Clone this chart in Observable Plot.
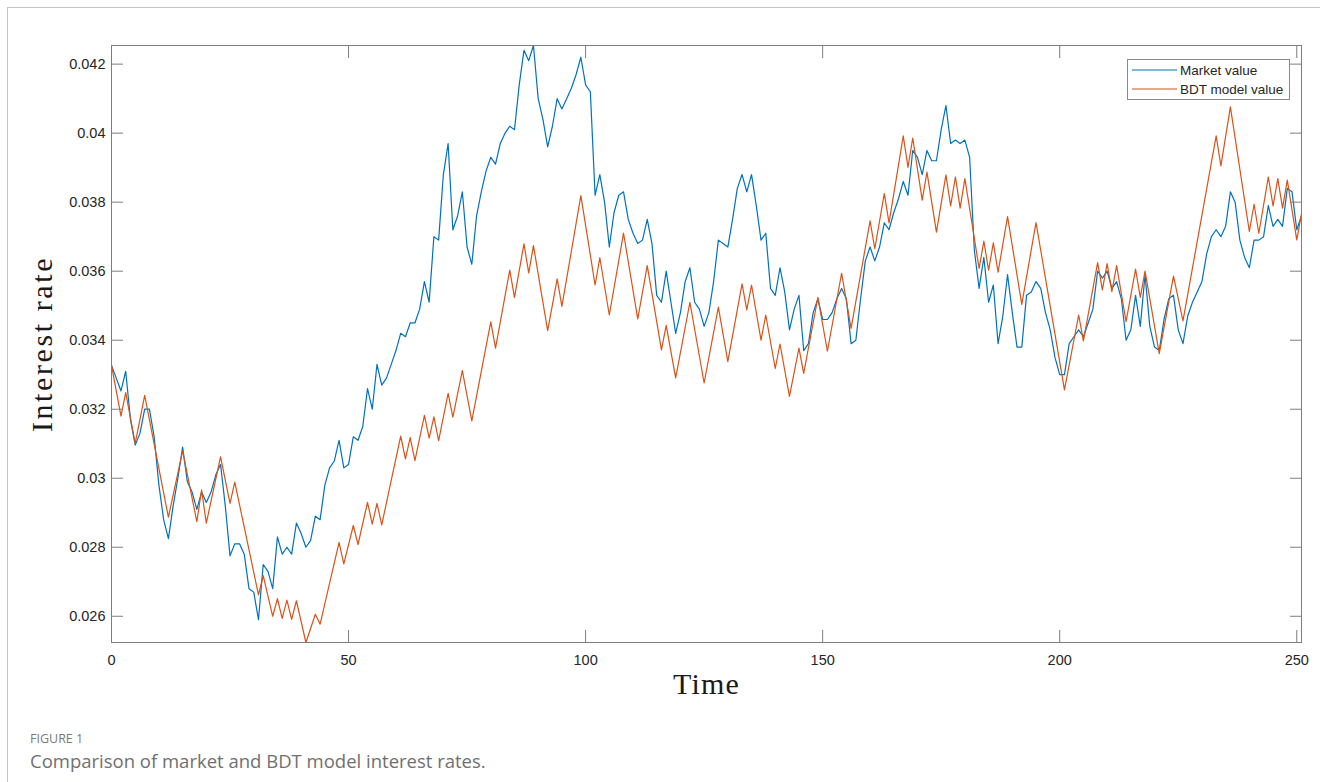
<!DOCTYPE html>
<html>
<head>
<meta charset="utf-8">
<script src="https://cdn.jsdelivr.net/npm/d3@7"></script>
<script src="https://cdn.jsdelivr.net/npm/@observablehq/plot@0.6"></script>
<style>
  html, body { margin: 0; padding: 0; background: #fff; width: 1320px; height: 782px; overflow: hidden; }
  #border { position: absolute; left: 7px; top: 7px; width: 1400px; height: 900px; border: 1px solid #c4c4c4; box-sizing: border-box; }
  #chart { position: absolute; left: 0; top: 0; }
  #legend { position: absolute; left: 1127px; top: 59px; width: 163px; height: 41px; }
  .fig { position: absolute; left: 30px; top: 733px; font-family: "Open Sans", sans-serif; font-size: 12.5px; line-height: 1; color: #7a7a7a; }
  .cap { position: absolute; left: 30px; top: 752px; font-family: "Open Sans", sans-serif; font-size: 18.5px; line-height: 1; color: #707070; }
</style>
</head>
<body>
<div id="border"></div>
<div id="chart"></div>
<div id="legend"></div>
<div class="fig">FIGURE 1</div>
<div class="cap">Comparison of market and BDT model interest rates.</div>
<script>
// ---- data ----
const seriesNames = ["Market value", "BDT model value"];
const seriesColors = ["#0072BD", "#D95319"];
const xTicks = [0, 50, 100, 150, 200, 250];
const yTicks = [0.026, 0.028, 0.03, 0.032, 0.034, 0.036, 0.038, 0.04, 0.042];
const xLabel = "Time";
const yLabel = "Interest rate";

// Market value, one value per time step t = 0..251
const marketValue = [
  0.03327, 0.0329, 0.03253, 0.0331, 0.0317, 0.03096, 0.0313, 0.032, 0.032, 0.0312,
  0.0298, 0.0288, 0.02825, 0.0292, 0.03, 0.0309, 0.0299, 0.0296, 0.0291, 0.0296,
  0.0293, 0.0296, 0.0301, 0.0304, 0.0292, 0.02775, 0.0281, 0.0281, 0.0278, 0.0268,
  0.0267, 0.0259, 0.0275, 0.0273, 0.0268, 0.0283, 0.0278, 0.028, 0.0278, 0.0287,
  0.0284, 0.028, 0.0282, 0.0289, 0.0288, 0.0298, 0.0303, 0.0305, 0.0311, 0.0303,
  0.0304, 0.0312, 0.0311, 0.0315, 0.0326, 0.032, 0.0333, 0.0327, 0.0329, 0.0333,
  0.0337, 0.0342, 0.0341, 0.0345, 0.0345, 0.0349, 0.0357, 0.0351, 0.037, 0.0369,
  0.0388, 0.0397, 0.0372, 0.0376, 0.0383, 0.0367, 0.0362, 0.0376, 0.0383, 0.0389,
  0.0393, 0.0391, 0.0397, 0.04, 0.0402, 0.0401, 0.0414, 0.0424, 0.0421, 0.04254,
  0.041, 0.0404, 0.0396, 0.0402, 0.041, 0.0407, 0.041, 0.0413, 0.0417, 0.0422,
  0.0414, 0.0412, 0.0382, 0.0388, 0.038, 0.0367, 0.0377, 0.0382, 0.0383, 0.0375,
  0.0371, 0.0368, 0.0369, 0.0375, 0.0368, 0.0353, 0.0351, 0.036, 0.0351, 0.0342,
  0.0348, 0.0357, 0.0361, 0.0351, 0.0349, 0.0344, 0.0348, 0.0357, 0.0369, 0.0368,
  0.0367, 0.0375, 0.0384, 0.0388, 0.0383, 0.0388, 0.0379, 0.0369, 0.0371, 0.0355,
  0.0353, 0.0361, 0.0354, 0.0343, 0.0349, 0.0353, 0.0337, 0.0339, 0.0348, 0.0352,
  0.0346, 0.0346, 0.0348, 0.0352, 0.0355, 0.0352, 0.0339, 0.034, 0.0352, 0.0363,
  0.0367, 0.0363, 0.0367, 0.0374, 0.0372, 0.0377, 0.0381, 0.0386, 0.0382, 0.0395,
  0.0393, 0.0388, 0.0395, 0.0392, 0.0392, 0.0401, 0.0408, 0.0397, 0.0398, 0.0397,
  0.0398, 0.0393, 0.0366, 0.0355, 0.0364, 0.0351, 0.0356, 0.0339, 0.0347, 0.0359,
  0.0348, 0.0338, 0.0338, 0.0353, 0.0354, 0.0357, 0.0355, 0.0348, 0.0343, 0.0335,
  0.033, 0.033, 0.0339, 0.0341, 0.0343, 0.0341, 0.0345, 0.0349, 0.036, 0.0358,
  0.036, 0.0355, 0.0357, 0.0352, 0.034, 0.0343, 0.0353, 0.0344, 0.0359, 0.0344,
  0.0338, 0.0337, 0.0346, 0.0352, 0.0353, 0.0343, 0.0339, 0.0347, 0.0351, 0.0354,
  0.0357, 0.0365, 0.037, 0.0372, 0.037, 0.0373, 0.0383, 0.038, 0.0369, 0.0364,
  0.0361, 0.0369, 0.0369, 0.037, 0.0379, 0.0373, 0.0375, 0.0373, 0.0384, 0.0383,
  0.0372, 0.0376
];

// BDT model value: the turning points of its zig-zag path
const bdtTime = [
  0, 2, 3, 5, 7, 12, 15, 18, 19, 20, 23, 25, 26, 31, 32, 34, 35, 36, 37, 38,
  39, 41, 43, 44, 48, 49, 51, 52, 54, 55, 56, 57, 61, 62, 63, 64, 66, 67, 68, 69,
  71, 72, 74, 76, 80, 81, 84, 85, 87, 88, 89, 92, 94, 95, 99, 102, 103, 105, 108, 111,
  113, 116, 117, 119, 122, 125, 128, 130, 133, 134, 135, 137, 138, 140, 141, 143, 145, 146, 149, 151,
  154, 156, 160, 161, 163, 164, 167, 168, 169, 171, 172, 174, 176, 177, 178, 179, 180, 183, 184, 185,
  186, 187, 189, 192, 195, 201, 204, 205, 208, 209, 210, 211, 212, 214, 216, 217, 218, 221, 224, 226,
  233, 234, 236, 240, 241, 242, 244, 245, 246, 247, 248, 250, 251
];
const bdtValue = [
  0.03327, 0.0318, 0.03248, 0.03101, 0.0324, 0.02887, 0.03079, 0.02874, 0.02966, 0.0287,
  0.03062, 0.02927, 0.02989, 0.02662, 0.02718, 0.026, 0.02651, 0.02594, 0.02647, 0.02591,
  0.02645, 0.02524, 0.02606, 0.02577, 0.02814, 0.02752, 0.02863, 0.02808, 0.0293, 0.02867,
  0.02927, 0.02865, 0.03122, 0.03056, 0.03118, 0.03051, 0.03182, 0.03116, 0.03178, 0.03109,
  0.03246, 0.03177, 0.03312, 0.03166, 0.03453, 0.03377, 0.03603, 0.03524, 0.03679, 0.03595,
  0.03674, 0.03428, 0.03578, 0.03498, 0.03819, 0.0356, 0.03639, 0.03473, 0.0371, 0.03462,
  0.03616, 0.03372, 0.03443, 0.03291, 0.0351, 0.03276, 0.03496, 0.03338, 0.03563, 0.03488,
  0.0356, 0.034, 0.03473, 0.03318, 0.03389, 0.03237, 0.03377, 0.03304, 0.03524, 0.03368,
  0.03594, 0.03434, 0.03746, 0.03665, 0.03825, 0.0374, 0.03992, 0.03901, 0.03986, 0.03806,
  0.03887, 0.03713, 0.03879, 0.03789, 0.03873, 0.03783, 0.03868, 0.03608, 0.03687, 0.03603,
  0.03682, 0.03597, 0.03758, 0.03504, 0.03741, 0.03256, 0.03473, 0.03398, 0.03625, 0.03546,
  0.03622, 0.03541, 0.03616, 0.03454, 0.03606, 0.03524, 0.036, 0.03361, 0.03586, 0.03456,
  0.03992, 0.03905, 0.04076, 0.03715, 0.03794, 0.0371, 0.03873, 0.03789, 0.03868, 0.03783,
  0.03864, 0.03691, 0.03766
];

// ---- build ----
const market = marketValue.map((v, i) => ({t: i, v}));
const bdt = bdtTime.map((t, i) => ({t, v: bdtValue[i]}));
const yDomain = d3.extent([...marketValue, ...bdtValue]);
const xDomain = [0, d3.max([marketValue.length - 1, d3.max(bdtTime)])];

const tickColor = "#7d7d7d";
const labelColor = "#262626";
const sans = "'Liberation Sans', Arial, Helvetica, sans-serif";
const serif = "'Liberation Serif', 'Times New Roman', serif";
const fmtY = d => String(+d.toFixed(3));

const chart = Plot.plot({
  width: 1320,
  height: 710,
  marginLeft: 111,
  marginRight: 19,
  marginTop: 45,
  marginBottom: 68,
  style: {fontFamily: sans, fontSize: "14.5px", background: "transparent", overflow: "visible"},
  x: {domain: xDomain},
  y: {domain: yDomain},
  marks: [
    Plot.line(market, {x: "t", y: "v", stroke: seriesColors[0], strokeWidth: 1.2}),
    Plot.line(bdt, {x: "t", y: "v", stroke: seriesColors[1], strokeWidth: 1.2}),
    Plot.frame({stroke: tickColor, strokeWidth: 1}),
    Plot.axisY({anchor: "left", ticks: yTicks, tickFormat: fmtY, tickSize: -12, tickPadding: 18,
      stroke: tickColor, fill: labelColor, label: null, fontSize: 14.5}),
    Plot.axisY({anchor: "right", ticks: yTicks, tickFormat: () => "", tickSize: -12,
      stroke: tickColor, label: null}),
    Plot.axisX({anchor: "bottom", ticks: xTicks, tickFormat: d => String(d), tickSize: -12, tickPadding: 24,
      stroke: tickColor, fill: labelColor, label: null, fontSize: 14.5}),
    Plot.axisX({anchor: "top", ticks: xTicks, tickFormat: () => "", tickSize: -12,
      stroke: tickColor, label: null}),
    Plot.text([yLabel], {text: d => d, frameAnchor: "left", dx: -69, rotate: -90,
      textAnchor: "middle", lineAnchor: "middle",
      fontFamily: serif, fontSize: 30, fill: "#1a1a1a"}),
    Plot.text([xLabel], {text: d => d, frameAnchor: "bottom", dy: 42,
      textAnchor: "middle", lineAnchor: "middle",
      fontFamily: serif, fontSize: 30, fill: "#1a1a1a"})
  ]
});
// widen the serif axis titles a little (the original uses a wider LaTeX font)
d3.select(chart).selectAll("text")
  .filter(function() { return this.textContent === yLabel; })
  .style("letter-spacing", "2.6px");
d3.select(chart).selectAll("text")
  .filter(function() { return this.textContent === xLabel; })
  .style("letter-spacing", "1.2px");
document.getElementById("chart").appendChild(chart);

// ---- legend (inside the plot area, top right) ----
const legend = d3.select("#legend").append("svg")
  .attr("width", 163).attr("height", 41)
  .style("font-family", "Liberation Sans, Arial, sans-serif");
legend.append("rect").attr("x", 0.5).attr("y", 0.5).attr("width", 162).attr("height", 40)
  .attr("fill", "#fff").attr("stroke", "#8a8a8a");
seriesNames.forEach((name, i) => {
  const cy = 11 + i * 19;
  legend.append("line").attr("x1", 5).attr("x2", 50).attr("y1", cy).attr("y2", cy)
    .attr("stroke", seriesColors[i]).attr("stroke-width", 1.2);
  legend.append("text").attr("x", 53).attr("y", cy).attr("dy", "0.35em")
    .attr("font-size", 13.5).attr("fill", labelColor).text(name);
});
</script>
</body>
</html>
